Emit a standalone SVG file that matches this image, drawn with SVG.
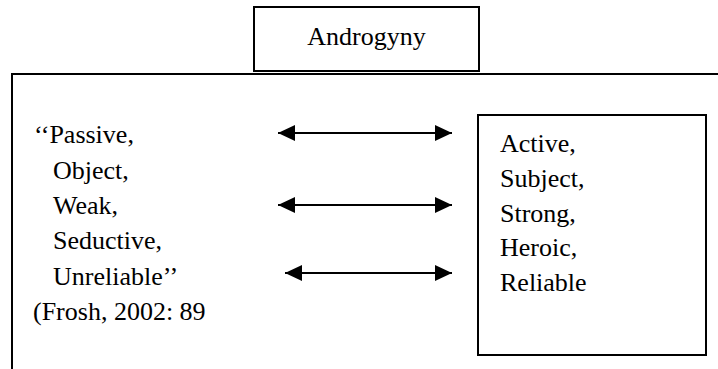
<svg xmlns="http://www.w3.org/2000/svg" width="718" height="369" viewBox="0 0 718 369">
<style>
.box{fill:#fff;stroke:#000;stroke-width:2}
.ln{fill:none;stroke:#000;stroke-width:2}
.t{font-family:'Liberation Serif','Times New Roman',Tinos,'Noto Serif','DejaVu Serif',serif;font-size:26px;fill:#000}
</style>
<defs>
<marker id="ah" markerWidth="17" markerHeight="16" refX="17" refY="8" orient="auto-start-reverse" markerUnits="userSpaceOnUse">
<path d="M0,0 L17,8 L0,16 Z" fill="#000"/>
</marker>
</defs>
<rect width="718" height="369" fill="#fff"/>
<g id="frame">
<path class="ln" d="M12,369 V74 H718"/>
</g>
<g id="androgyny">
<rect class="box" x="254" y="7" width="225" height="64"/>
<text class="t" x="366.5" y="45" text-anchor="middle">Androgyny</text>
</g>
<g id="feminine">
<text class="t" x="34" y="143">‘‘Passive,</text>
<text class="t" x="53" y="178.5">Object,</text>
<text class="t" x="53" y="214">Weak,</text>
<text class="t" x="53" y="249">Seductive,</text>
<text class="t" x="53" y="284.5">Unreliable’’</text>
<text class="t" x="33" y="320">(Frosh, 2002: 89</text>
</g>
<g id="masculine">
<rect class="box" x="478" y="115" width="228" height="240"/>
<text class="t" x="500" y="152">Active,</text>
<text class="t" x="500" y="186.75">Subject,</text>
<text class="t" x="500" y="221.5">Strong,</text>
<text class="t" x="500" y="256.25">Heroic,</text>
<text class="t" x="500" y="291">Reliable</text>
</g>
<g id="connectors">
<line class="ln" x1="278" y1="133" x2="452" y2="133" marker-start="url(#ah)" marker-end="url(#ah)"/>
<line class="ln" x1="278" y1="205" x2="452" y2="205" marker-start="url(#ah)" marker-end="url(#ah)"/>
<line class="ln" x1="285" y1="273" x2="452" y2="273" marker-start="url(#ah)" marker-end="url(#ah)"/>
</g>
</svg>
